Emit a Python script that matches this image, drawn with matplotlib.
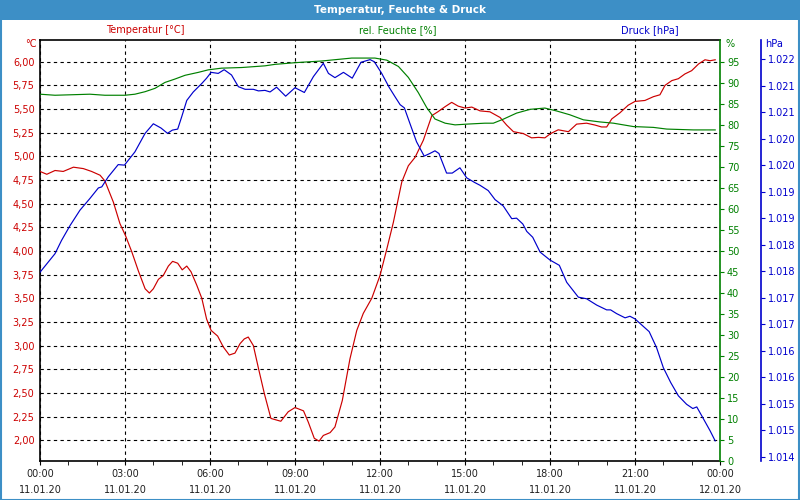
import math
import numpy as np
import matplotlib
matplotlib.use("Agg")
import matplotlib.pyplot as plt
from matplotlib.ticker import FixedLocator, FuncFormatter
from matplotlib.patches import Rectangle

# Stunden seit 11.01.20 00:00
temp_h = [0.0, 0.24, 0.53, 0.82, 1.18, 1.53, 1.82, 2.12, 2.29, 2.59, 2.82, 3.02, 3.24,
          3.47, 3.71, 3.86, 4.0, 4.18, 4.35, 4.53, 4.68, 4.86, 5.02, 5.18, 5.33, 5.53,
          5.71, 5.88, 6.04, 6.27, 6.47, 6.68, 6.88, 7.06, 7.21, 7.35, 7.53, 7.71, 7.92,
          8.15, 8.5, 8.76, 9.0, 9.3, 9.47, 9.68, 9.85, 10.0, 10.24, 10.41, 10.67, 10.94,
          11.18, 11.41, 11.71, 12.0, 12.24, 12.47, 12.77, 13.0, 13.24, 13.53, 13.83,
          14.04, 14.3, 14.53, 14.76, 15.0, 15.24, 15.53, 15.88, 16.24, 16.47, 16.71,
          17.06, 17.35, 17.59, 17.82, 18.02, 18.29, 18.65, 18.94, 19.29, 19.59, 19.82,
          20.0, 20.18, 20.47, 20.76, 21.0, 21.35, 21.65, 21.88, 22.06, 22.3, 22.53,
          22.76, 23.0, 23.24, 23.47, 23.65, 23.83]
temp_c = [4.84, 4.81, 4.85, 4.84, 4.885, 4.87, 4.84, 4.80, 4.74, 4.515, 4.29, 4.16, 3.99,
          3.79, 3.60, 3.555, 3.60, 3.70, 3.74, 3.84, 3.89, 3.87, 3.80, 3.84, 3.78, 3.64,
          3.50, 3.28, 3.16, 3.10, 2.985, 2.90, 2.92, 3.02, 3.07, 3.09, 3.00, 2.76, 2.49,
          2.23, 2.20, 2.30, 2.345, 2.31, 2.19, 2.02, 1.99, 2.05, 2.08, 2.14, 2.42, 2.86,
          3.16, 3.34, 3.50, 3.74, 4.02, 4.30, 4.73, 4.90, 4.99, 5.17, 5.43,
          5.47, 5.525, 5.57, 5.53, 5.51, 5.52, 5.48, 5.47, 5.41, 5.33, 5.26,
          5.24, 5.195, 5.20, 5.195, 5.24, 5.28, 5.26, 5.34, 5.35, 5.33, 5.31,
          5.31, 5.395, 5.46, 5.54, 5.58, 5.59, 5.63, 5.65, 5.75, 5.80, 5.82,
          5.87, 5.905, 5.975, 6.02, 6.01, 6.02]

hum_h = [0.0, 0.53, 1.76, 2.29, 3.0, 3.35, 3.71, 4.06, 4.41, 4.76, 5.12, 5.59, 5.94,
         6.41, 7.12, 7.94, 8.29, 9.0, 9.94, 11.0, 11.82, 12.24, 12.65, 13.0, 13.35,
         13.65, 13.94, 14.3, 14.65, 15.12, 15.7, 16.0, 16.35, 16.82, 17.3, 17.82,
         18.24, 18.7, 19.18, 19.76, 20.24, 20.94, 21.65, 22.12, 23.06, 23.83]
hum_pct = [87.3, 87.05, 87.3, 87.05, 87.05, 87.3, 87.9, 88.7, 90.1, 90.9, 91.8, 92.5, 93.1,
           93.5, 93.65, 94.05, 94.4, 94.8, 95.2, 95.9, 95.9, 95.4, 93.9, 91.3, 87.7,
           84.1, 81.4, 80.4, 80.0, 80.2, 80.4, 80.4, 81.35, 82.8, 83.7, 84.0,
           83.3, 82.4, 81.2, 80.7, 80.4, 79.6, 79.4, 79.0, 78.8, 78.8]

press_h = [0.0, 0.53, 0.76, 1.06, 1.41, 1.76, 2.06, 2.18, 2.41, 2.76, 2.98, 3.35, 3.71,
           4.0, 4.27, 4.5, 4.67, 4.86, 5.0, 5.18, 5.41, 5.71, 5.88, 6.04, 6.29, 6.5,
           6.76, 7.0, 7.24, 7.53, 7.71, 7.94, 8.12, 8.35, 8.67, 9.0, 9.33, 9.65, 10.0,
           10.18, 10.41, 10.71, 11.02, 11.33, 11.65, 11.8, 12.06, 12.32, 12.53, 12.71,
           12.86, 13.06, 13.29, 13.56, 13.76, 13.94, 14.08, 14.35, 14.55, 14.82, 15.06,
           15.35, 15.53, 15.82, 16.06, 16.35, 16.65, 16.82, 17.04, 17.18, 17.39, 17.65,
           18.0, 18.33, 18.59, 19.0, 19.29, 19.65, 20.0, 20.14, 20.35, 20.65, 20.82,
           21.0, 21.29, 21.5, 21.76, 22.0, 22.26, 22.53, 22.82, 23.04, 23.18, 23.39,
           23.65, 23.83]
press_hpa = [1017.98, 1018.33, 1018.58, 1018.86, 1019.15, 1019.37, 1019.57, 1019.59,
             1019.78, 1020.01, 1020.0, 1020.25, 1020.60, 1020.78, 1020.70, 1020.60,
             1020.66, 1020.68, 1020.91, 1021.22, 1021.38, 1021.54, 1021.64, 1021.75,
             1021.73, 1021.80, 1021.70, 1021.48, 1021.43, 1021.43, 1021.40, 1021.41,
             1021.38, 1021.47, 1021.30, 1021.46, 1021.37, 1021.67, 1021.92, 1021.73,
             1021.65, 1021.75, 1021.64, 1021.94, 1021.99, 1021.95, 1021.73, 1021.47,
             1021.29, 1021.14, 1021.08, 1020.78, 1020.44, 1020.17, 1020.22, 1020.27,
             1020.22, 1019.85, 1019.85, 1019.95, 1019.76, 1019.67, 1019.62, 1019.52,
             1019.35, 1019.23, 1018.99, 1019.0, 1018.89, 1018.75, 1018.64, 1018.36,
             1018.21, 1018.11, 1017.79, 1017.51, 1017.48, 1017.36, 1017.27, 1017.27,
             1017.20, 1017.12, 1017.15, 1017.10, 1016.96, 1016.86, 1016.56, 1016.18,
             1015.90, 1015.65, 1015.49, 1015.41, 1015.44, 1015.24, 1014.99, 1014.80]

x_major = [0, 3, 6, 9, 12, 15, 18, 21, 24]
x_labels = ["00:00\n11.01.20", "03:00\n11.01.20", "06:00\n11.01.20", "09:00\n11.01.20",
            "12:00\n11.01.20", "15:00\n11.01.20", "18:00\n11.01.20", "21:00\n11.01.20",
            "00:00\n12.01.20"]
temp_ticks = np.arange(2.0, 6.01, 0.25)
hum_ticks = np.arange(0, 96, 5)
press_ticks = np.arange(1014.5, 1022.01, 0.5)

RED = "#cc0000"
GREEN = "#008000"
BLUE = "#0000cc"
BAR = "#3d8fc6"
FS = 7

fig = plt.figure(figsize=(8, 5), dpi=100)
fig.patch.set_facecolor("white")

# Titelleiste
fig.patches.append(Rectangle((0, 1 - 20 / 500), 1, 20 / 500, transform=fig.transFigure,
                             facecolor=BAR, edgecolor="none", zorder=0))
fig.patches.append(Rectangle((0.0008, 0.001), 0.9984, 0.997, transform=fig.transFigure,
                             facecolor="none", edgecolor=BAR, linewidth=1.5, zorder=0))
fig.text(0.5, 1 - 10 / 500, "Temperatur, Feuchte & Druck", color="white", fontsize=7.5,
         fontweight="bold", ha="center", va="center")

ax = fig.add_axes([40 / 800, 1 - 461 / 500, 680 / 800, 421 / 500])
ax2 = ax.twinx()
ax3 = ax.twinx()

ax.plot(temp_h, temp_c, color=RED, lw=0.85, zorder=3)
ax2.plot(hum_h, hum_pct, color=GREEN, lw=0.85)
ax3.plot(press_h, press_hpa, color=BLUE, lw=0.85)

ax.set_xlim(0, 24)
ax.set_ylim(1.78, 6.229)
ax2.set_ylim(0, 100.2)
ax3.set_ylim(1014.42, 1022.36)

ax.set_xticks(x_major)
ax.set_xticklabels(x_labels, fontsize=FS, color="#202020", linespacing=1.65)
ax.xaxis.set_minor_locator(FixedLocator(range(25)))
ax.tick_params(axis="x", which="major", length=3, color="black", pad=3)
ax.tick_params(axis="x", which="minor", length=3, color="black")

ax.set_yticks(temp_ticks)
ax.yaxis.set_major_formatter(FuncFormatter(lambda v, p: f"{v:.2f}".replace(".", ",")))
ax.tick_params(axis="y", length=0, labelsize=FS, labelcolor=RED, pad=4)

ax.grid(True, color="black", linestyle=(0, (3, 3)), linewidth=0.8)
ax.set_axisbelow(True)

ax2.set_yticks(hum_ticks)
ax2.tick_params(axis="y", length=3, color=GREEN, labelsize=FS, labelcolor=GREEN, pad=2)

ax3.spines["right"].set_position(("axes", 1 + 41 / 680))
ax3.set_yticks(press_ticks)
ax3.yaxis.set_major_formatter(FuncFormatter(lambda v, p: f"{math.floor(v + 1e-6) / 1000:.3f}"))
ax3.tick_params(axis="y", length=3, color=BLUE, labelsize=FS, labelcolor=BLUE, pad=2)

for a in (ax, ax2, ax3):
    for s in a.spines.values():
        s.set_visible(False)
for s in ("left", "top", "bottom"):
    ax.spines[s].set_visible(True)
    ax.spines[s].set_color("black")
    ax.spines[s].set_linewidth(1.2)
ax2.spines["right"].set_visible(True)
ax2.spines["right"].set_color(GREEN)
ax2.spines["right"].set_linewidth(1.2)
ax3.spines["right"].set_visible(True)
ax3.spines["right"].set_color(BLUE)
ax3.spines["right"].set_linewidth(1.2)

# Achsentitel oben
fig.text(145 / 800, 1 - 30 / 500, "Temperatur [°C]", color=RED, fontsize=FS, ha="center", va="center")
fig.text(398 / 800, 1 - 30 / 500, "rel. Feuchte [%]", color=GREEN, fontsize=FS, ha="center", va="center")
fig.text(650 / 800, 1 - 30 / 500, "Druck [hPa]", color=BLUE, fontsize=FS, ha="center", va="center")
fig.text(37 / 800, 1 - 44 / 500, "°C", color=RED, fontsize=FS, ha="right", va="center")
fig.text(725 / 800, 1 - 44 / 500, "%", color=GREEN, fontsize=FS, ha="left", va="center")
fig.text(765 / 800, 1 - 44 / 500, "hPa", color=BLUE, fontsize=FS, ha="left", va="center")

fig.savefig("out.png", dpi=100)
